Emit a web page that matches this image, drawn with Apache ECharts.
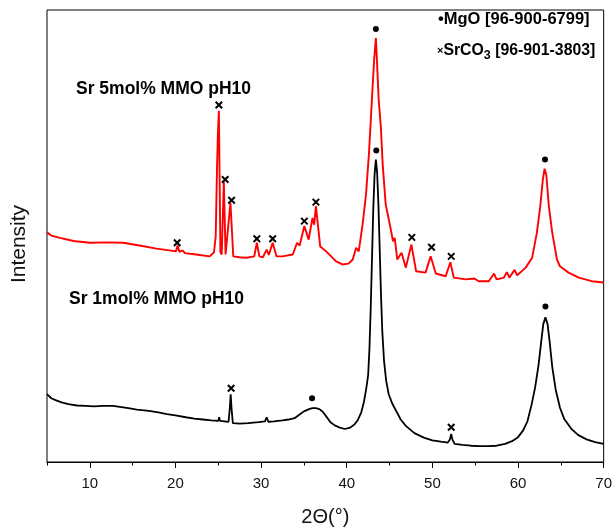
<!DOCTYPE html>
<html>
<head>
<meta charset="utf-8">
<script src="https://cdn.jsdelivr.net/npm/echarts@6/dist/echarts.min.js"></script>
<style>
  html, body { margin: 0; padding: 0; background: #fff; }
  #chart { width: 615px; height: 532px; }
</style>
</head>
<body>
<div id="chart"></div>
<script>
// X-ray diffraction patterns, 2θ in degrees vs. intensity (a.u.)
const majorTicks = [10, 20, 30, 40, 50, 60, 70];
const minorTicks = [5, 15, 25, 35, 45, 55, 65];

// Sr 5mol% MMO pH10 (offset upward)
const sr5Pattern = [
  [5.0,508],[5.5,501],[6.5,496],[8.1,489],[10.0,485],[12.0,486],[13.9,485],[15.8,479],[17.8,472],
  [19.7,467],[20.05,466],[20.25,479],[20.45,465],[20.85,468],[21.1,462],[22.4,459],[24.0,455],
  [24.5,464],[24.7,499],[24.85,647],[24.95,724],[25.07,777],[25.17,603],[25.25,464],[25.4,459],
  [25.65,620],[25.85,459],[26.05,459],[26.42,574],[26.75,455],[27.5,453],[28.3,452],[29.2,455],
  [29.5,485],[29.8,455],[30.2,453],[30.65,470],[30.9,458],[31.35,485],[31.8,455],[32.5,455],
  [33.7,459],[34.2,485],[34.5,479],[35.05,522],[35.55,492],[36.0,540],[36.2,525],[36.4,566],
  [36.9,477],[37.6,466],[38.75,444],[39.5,437],[40.2,439],[40.7,448],[41.1,474],[41.4,466],
  [41.85,525],[42.25,592],[42.6,684],[43.0,823],[43.2,890],[43.4,938],[43.55,879],[43.72,804],
  [43.85,808],[43.98,742],[44.2,658],[44.55,570],[45.15,514],[45.4,488],[45.6,496],[45.9,448],
  [46.4,463],[46.9,430],[47.55,481],[48.1,422],[49.2,419],[49.8,455],[50.4,417],[51.55,411],
  [52.1,442],[52.5,408],[53.9,404],[54.9,406],[55.4,400],[56.6,400],[57.2,417],[57.5,404],
  [58.35,408],[58.7,420],[59.0,408],[59.6,425],[59.9,413],[60.9,430],[61.65,452],[62.2,507],
  [62.6,566],[62.9,625],[63.1,649],[63.3,636],[63.6,566],[64.0,507],[64.55,448],[64.9,433],
  [65.1,432],[65.4,426],[65.9,419],[67.1,408],[68.6,400],[70.0,397]
];

// Sr 1mol% MMO pH10
const sr1Pattern = [
  [5.0,150],[5.5,141],[6.0,137],[6.7,132],[7.5,128],[8.5,125],[9.5,124],[10.5,123],[11.5,124],
  [12.7,124],[13.5,122],[14.5,119],[15.5,116],[16.9,113],[18.0,110],[19.0,106],[20.0,103],
  [21.2,99],[22.2,96],[23.2,94],[24.2,92],[25.0,91],[25.1,99],[25.2,91],[26.2,89],[26.35,120],
  [26.45,150],[26.55,118],[26.7,86],[27.5,85],[28.5,86],[29.7,88],[30.45,90],[30.65,99],
  [30.85,89],[31.5,90],[32.5,92],[33.2,94],[33.9,97],[34.5,105],[35.0,112],[35.6,117],[36.0,119],
  [36.4,119],[36.8,117],[37.2,111],[37.6,101],[38.1,88],[38.6,81],[39.2,76],[39.8,73],[40.4,76],
  [40.9,83],[41.3,93],[41.7,110],[42.0,132],[42.3,165],[42.5,192],[42.65,250],[42.8,340],
  [42.95,450],[43.1,560],[43.25,635],[43.4,669],[43.55,640],[43.7,570],[43.85,470],[44.0,370],
  [44.15,290],[44.35,225],[44.6,180],[44.9,150],[45.3,130],[45.8,112],[46.3,94],[46.9,80],
  [47.9,64],[49.0,54],[50.0,48],[51.0,45],[51.8,43],[52.05,50],[52.2,62],[52.35,49],[52.6,40],
  [53.5,38],[54.5,36],[55.5,35],[56.5,35],[57.5,36],[58.5,40],[59.3,46],[60.0,55],[60.6,70],
  [61.1,90],[61.6,128],[62.0,165],[62.4,215],[62.7,265],[62.95,305],[63.2,320],[63.45,305],
  [63.7,265],[64.0,210],[64.4,160],[64.9,120],[65.4,95],[66.2,74],[67.0,60],[68.0,50],
  [69.0,44],[70.0,40]
];

// Phase marks placed above the reflections
const sr5SrCO3Marks = [[20.2,485],[25.07,790],[25.8,625],[26.55,579],[29.5,494],[31.35,494],
  [35.05,533],[36.4,575],[47.6,497],[49.9,475],[52.2,455]];
const sr5MgOMarks = [[43.4,958],[63.15,669]];
const sr1SrCO3Marks = [[26.5,163],[52.2,77]];
const sr1MgOMarks = [[35.95,141],[43.45,689],[63.2,344]];

const FONT = '"Liberation Sans", Arial, sans-serif';
const CROSS = 'path://M0,0L10,10M10,0L0,10';

const chart = echarts.init(document.getElementById('chart'), null, { renderer: 'canvas' });

function crossSeries(data) {
  return {
    type: 'scatter', data: data, symbol: CROSS, symbolSize: 6.5,
    itemStyle: { color: 'rgba(0,0,0,0)', borderColor: '#000', borderWidth: 2, opacity: 1 },
    emphasis: { disabled: true },
    silent: true, z: 5
  };
}
function dotSeries(data) {
  return {
    type: 'scatter', data: data, symbol: 'circle', symbolSize: 6,
    itemStyle: { color: '#000', opacity: 1 }, emphasis: { disabled: true },
    silent: true, z: 5
  };
}

chart.setOption({
  animation: false,
  backgroundColor: '#fff',
  grid: { left: 47, right: 11, top: 10, bottom: 69, show: true,
    borderColor: '#000', borderWidth: 1, backgroundColor: 'transparent' },
  xAxis: [{
    type: 'value', min: 5, max: 70, position: 'bottom',
    axisLine: { show: true, lineStyle: { color: '#000', width: 1 } },
    axisTick: { show: true, inside: false, length: 6, customValues: majorTicks,
      lineStyle: { color: '#000', width: 1 } },
    axisLabel: { show: true, customValues: majorTicks, margin: 14, fontSize: 15,
      color: '#111', fontFamily: FONT },
    splitLine: { show: false },
    name: '2\u0398(\u00b0)', nameLocation: 'middle', nameGap: 45,
    nameTextStyle: { fontSize: 20, color: '#111', fontFamily: FONT }
  }, {
    type: 'value', min: 5, max: 70, position: 'bottom', offset: 0,
    axisLine: { show: false },
    axisTick: { show: true, inside: false, length: 3.5, customValues: minorTicks,
      lineStyle: { color: '#000', width: 1 } },
    axisLabel: { show: false },
    splitLine: { show: false }
  }],
  yAxis: {
    type: 'value', min: 0, max: 1000,
    axisLine: { show: false }, axisTick: { show: false }, axisLabel: { show: false },
    splitLine: { show: false }
  },
  series: [
    { name: 'Sr 5mol% MMO pH10', type: 'line', data: sr5Pattern, showSymbol: false,
      symbol: 'none', lineStyle: { color: '#ff0000', width: 1.9 }, z: 3 },
    { name: 'Sr 1mol% MMO pH10', type: 'line', data: sr1Pattern, showSymbol: false,
      symbol: 'none', lineStyle: { color: '#000', width: 1.8 }, z: 3 },
    crossSeries(sr5SrCO3Marks),
    dotSeries(sr5MgOMarks),
    crossSeries(sr1SrCO3Marks),
    dotSeries(sr1MgOMarks)
  ],
  graphic: [
    // y-axis title
    { type: 'text', x: 19, y: 244, rotation: Math.PI / 2, silent: true,
      style: { text: 'Intensity', fill: '#111', font: '21px ' + FONT,
        align: 'center', verticalAlign: 'middle' } },
    { type: 'text', left: 76, top: 80, silent: true,
      style: { text: 'Sr 5mol% MMO pH10', fill: '#000',
        font: 'bold 17.5px ' + FONT } },
    { type: 'text', left: 69, top: 290, silent: true,
      style: { text: 'Sr 1mol% MMO pH10', fill: '#000',
        font: 'bold 17.5px ' + FONT } },
    { type: 'text', left: 438, top: 11, silent: true,
      style: { text: '\u2022MgO [96-900-6799]', fill: '#000',
        font: 'bold 16.5px ' + FONT } },
    { type: 'text', left: 437, top: 43, silent: true,
      style: {
        text: '{x|\u00d7}{b|SrCO}{s|3}{b| [96-901-3803]}',
        rich: {
          x: { fontSize: 11, fontWeight: 'bold', fontFamily: FONT, fill: '#000' },
          b: { fontSize: 15.8, fontWeight: 'bold', fontFamily: FONT, fill: '#000' },
          s: { fontSize: 12.5, fontWeight: 'bold', fontFamily: FONT, fill: '#000',
            padding: [9, 0, 0, 0] }
        }
      } }
  ]
});
</script>
</body>
</html>
